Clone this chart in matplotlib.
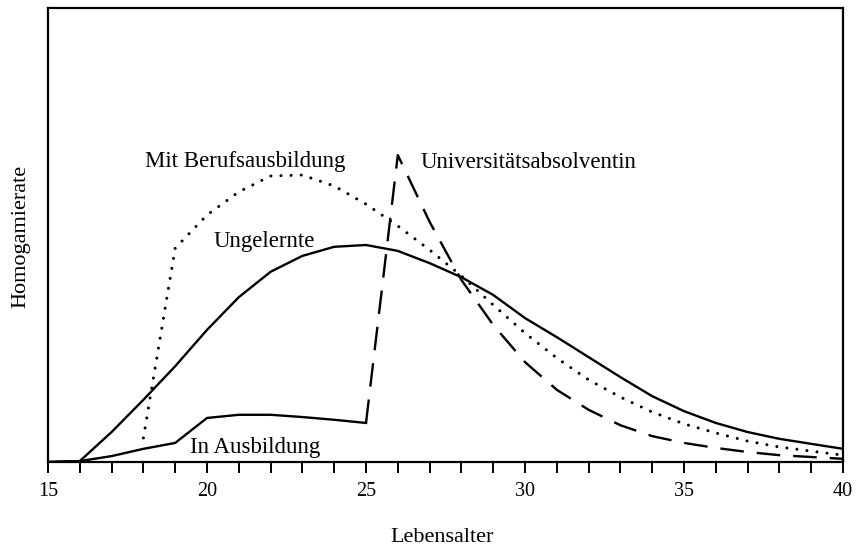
import matplotlib
matplotlib.use("Agg")
import matplotlib.pyplot as plt
from matplotlib.ticker import MultipleLocator

plt.rcParams['font.family'] = ['Liberation Serif', 'DejaVu Serif']

# Data (arbitrary units of the homogamy rate)
ages_ungelernte = list(range(15, 41))
ungelernte = [0, 0.2, 6.6, 13.7, 21.1, 29.1, 36.3, 41.9, 45.4, 47.4, 47.8, 46.5,
              43.8, 40.7, 36.8, 31.7, 27.5, 23.1, 18.7, 14.5, 11.2, 8.6, 6.6,
              5.1, 4.0, 2.9]

ages_beruf = list(range(18, 41))
beruf = [5.3, 47.1, 54.4, 59.5, 63.0, 63.2, 60.8, 56.8, 52.0, 46.7, 41.0, 34.6,
         28.4, 22.9, 18.1, 14.3, 11.0, 8.4, 6.4, 4.6, 3.3, 2.4, 1.5]

ages_ausbildung = list(range(15, 26))
ausbildung = [0, 0.2, 1.3, 2.9, 4.2, 9.7, 10.4, 10.4, 9.9, 9.3, 8.6]

ages_uni = list(range(25, 41))
uni = [8.6, 67.6, 52.9, 40.1, 30.2, 22.0, 15.9, 11.5, 8.1, 5.7, 4.2, 3.1, 2.2,
       1.5, 1.1, 0.7]

x_ticks = [15, 20, 25, 30, 35, 40]

fig = plt.figure(figsize=(8.59, 5.51), dpi=100)
ax = fig.add_axes([48/859, 1-462/551, (843-48)/859, (462-8)/551])

ax.plot(ages_ungelernte, ungelernte, color='black', lw=1.7, solid_joinstyle='round')
ax.plot(ages_beruf, beruf, color='black', lw=2.2, linestyle=(0, (0.01, 3.3)),
        dash_capstyle='round')
ax.plot(ages_ausbildung, ausbildung, color='black', lw=1.7)
ax.plot(ages_uni, uni, color='black', lw=1.7, linestyle=(0, (10, 5.5)))

ax.set_xlim(15, 40)
ax.set_ylim(0, 100)
ax.set_xticks(x_ticks)
ax.xaxis.set_minor_locator(MultipleLocator(1))
ax.set_yticks([])
ax.tick_params(axis='x', which='both', direction='out', length=8, width=1.4,
               color='black', labelsize=14.5, pad=6.5)
for s in ax.spines.values():
    s.set_linewidth(1.6)
    s.set_color('black')

ax.text(18.06, 65.0, 'Mit Berufsausbildung', fontsize=16.5, ha='left', va='baseline')
ax.text(20.2, 47.4, 'Ungelernte', fontsize=16.5, ha='left', va='baseline')
ax.text(26.7, 64.8, 'Universitätsabsolventin', fontsize=16.5, ha='left', va='baseline')
ax.text(19.48, 2.0, 'In Ausbildung', fontsize=16.5, ha='left', va='baseline')

fig.text(21/859, 1-236/551, 'Homogamierate', rotation=90, fontsize=16,
         ha='center', va='center')
fig.text(442/859, 1-537/551, 'Lebensalter', fontsize=16, ha='center', va='center')

fig.savefig('out.png', dpi=100)
